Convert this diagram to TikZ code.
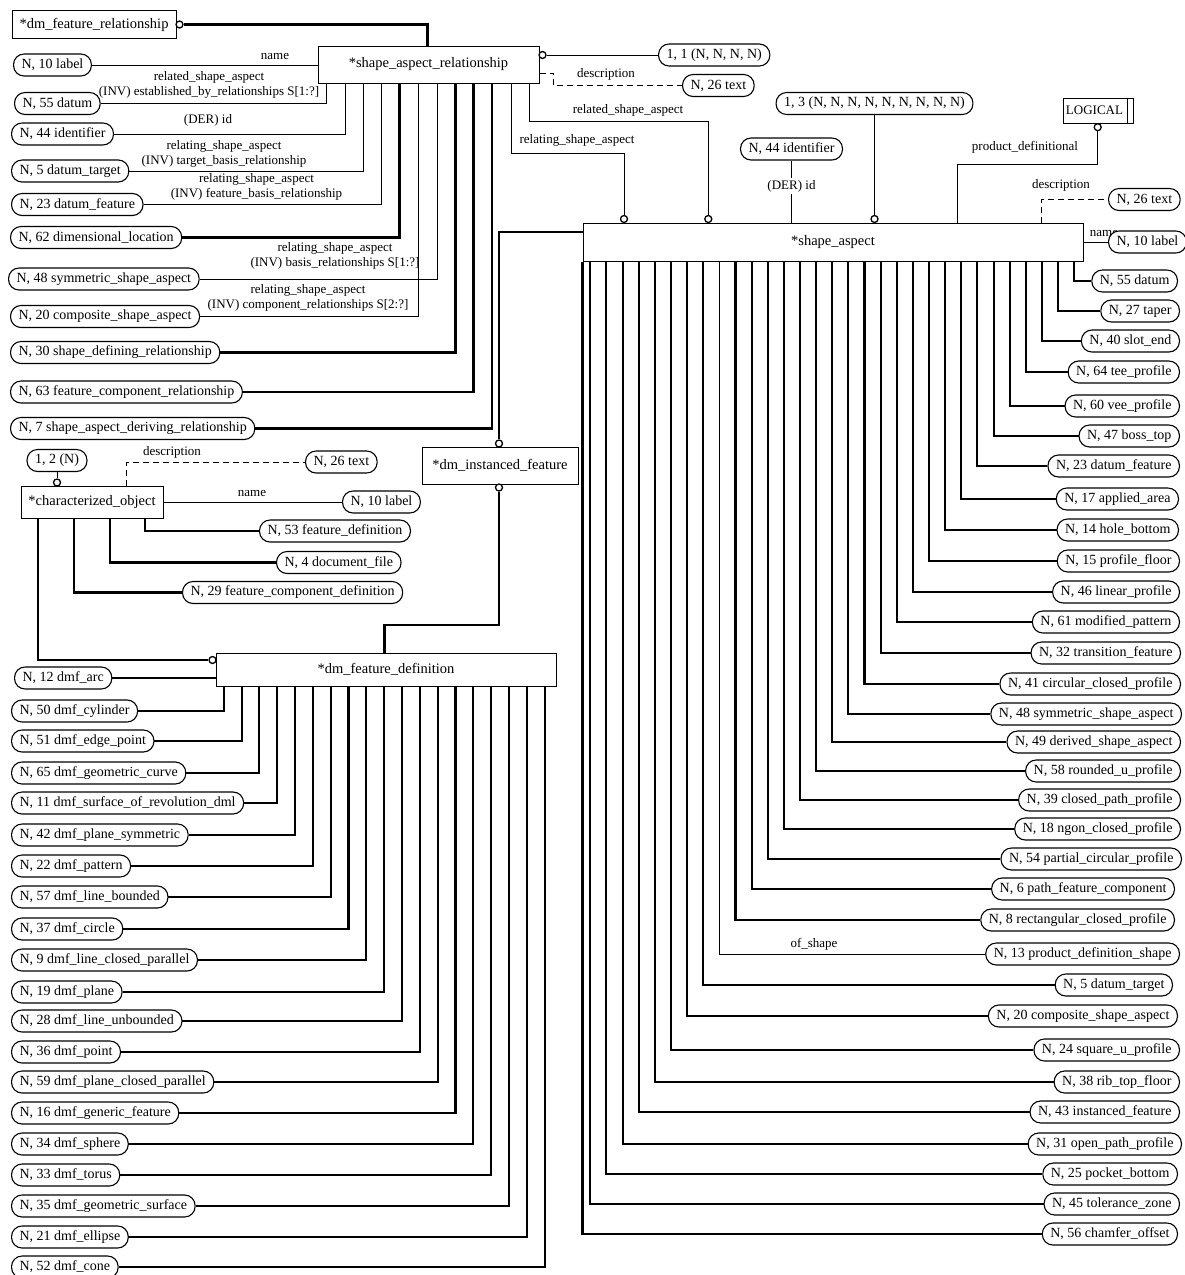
\documentclass[tikz,border=0pt]{standalone}
\usepackage{fontspec}
\setmainfont{Liberation Serif}
\newcommand\pillfont{\fontsize{14}{16}\selectfont}
\newcommand\entfont{\fontsize{14.5}{17}\selectfont}
\newcommand\labfont{\fontsize{13}{15}\selectfont}
\tikzset{
  pill/.style={draw, fill=white, rounded corners=10.5pt, minimum height=22pt,
    inner xsep=8pt, inner ysep=0pt, line width=1.1pt, font=\pillfont},
  ent/.style={draw, fill=white, line width=1pt, inner sep=0pt, font=\entfont},
  lab/.style={font=\labfont, inner sep=0pt, align=center},
  oc/.style={circle, draw, fill=white, inner sep=0pt, minimum size=7pt, line width=1.3pt},
  attr/.style={line width=0.9pt},
  sub/.style={line width=2.1pt},
  opt/.style={line width=0.9pt, dash pattern=on 6pt off 4pt},
}
\begin{document}
\begin{tikzpicture}[x=1pt,y=-1pt]
\fill[white] (0,0) rectangle (1184,1275);
\useasboundingbox (0,0) rectangle (1184,1275);

% ---------- entity boxes ----------
\node[ent, minimum width=164pt, minimum height=28pt] (dfr) at (94,24.5) {*dm\_feature\_relationship};
\node[ent, minimum width=221pt, minimum height=37pt] (sar) at (428.5,64.5) {*shape\_aspect\_relationship};
\node[ent, minimum width=500pt, minimum height=38pt] (sa) at (833,242) {*shape\_aspect};
\node[ent, minimum width=156pt, minimum height=37pt] (dmi) at (500,465.5) {*dm\_instanced\_feature};
\node[ent, minimum width=142pt, minimum height=32pt] (co) at (92,502) {*characterized\_object};
\node[ent, minimum width=340pt, minimum height=33pt] (dfd) at (386,669.5) {*dm\_feature\_definition};
\node[ent, font=\labfont, minimum width=70pt, minimum height=25pt] (lg) at (1098,110.5) {LOGICAL\hspace*{7pt}};
\draw[line width=1pt] ([xshift=-6.5pt]lg.north east) -- ([xshift=-6.5pt]lg.south east);

% ---------- open circles ----------
\node[oc] (cdfr) at (179.5,24.5) {};
\node[oc] (csar) at (542.5,55) {};
\node[oc] (crel1) at (624,219) {};
\node[oc] (crel2) at (708.3,219) {};
\node[oc] (cthree) at (874.5,219) {};
\node[oc] (clog) at (1097.7,127.2) {};
\node[oc] (cdmitop) at (499,443.5) {};
\node[oc] (cdmibot) at (499,487.5) {};
\node[oc] (cco) at (57,482.5) {};
\node[oc] (cdfd) at (212.5,660) {};

% ---------- shape_aspect_relationship ----------
\draw[sub] (cdfr.east) -| ([xshift=110pt]sar.north west);

\node[pill, anchor=west] (a1) at (13,65) {N, 10 label};
\node[pill, anchor=west] (a2) at (14,103.5) {N, 55 datum};
\node[pill, anchor=west] (a3) at (11,134) {N, 44 identifier};
\node[pill, anchor=west] (a4) at (11,171) {N, 5 datum\_target};
\node[pill, anchor=west] (a5) at (11,204.5) {N, 23 datum\_feature};
\node[pill, anchor=west] (a6) at (10,237.5) {N, 62 dimensional\_location};
\node[pill, anchor=west] (a7) at (8,279) {N, 48 symmetric\_shape\_aspect};
\node[pill, anchor=west] (a8) at (10,316.5) {N, 20 composite\_shape\_aspect};
\node[pill, anchor=west] (a9) at (10,352.5) {N, 30 shape\_defining\_relationship};
\node[pill, anchor=west] (a10) at (10,392) {N, 63 feature\_component\_relationship};
\node[pill, anchor=west] (a11) at (10,428.5) {N, 7 shape\_aspect\_deriving\_relationship};

\draw[attr] (a1.east) -- (a1.east -| sar.west);
\draw[attr] (a2.east) -| ([xshift=9pt]sar.south west);
\draw[attr] (a3.east) -| ([xshift=27.7pt]sar.south west);
\draw[attr] (a4.east) -| ([xshift=46pt]sar.south west);
\draw[attr] (a5.east) -| ([xshift=64.3pt]sar.south west);
\draw[sub] (a6.east) -| ([xshift=82pt]sar.south west);
\draw[attr] (a7.east) -| ([xshift=120.3pt]sar.south west);
\draw[attr] (a8.east) -| ([xshift=101pt]sar.south west);
\draw[sub] (a9.east) -| ([xshift=138pt]sar.south west);
\draw[sub] (a10.east) -| ([xshift=156pt]sar.south west);
\draw[sub] (a11.east) -| ([xshift=174.3pt]sar.south west);

\node[lab] at (275,56) {name};
\node[lab] at (209,84.5) {related\_shape\_aspect\\(INV) established\_by\_relationships S[1:?]};
\node[lab] at (208,120) {(DER) id};
\node[lab] at (224,153.5) {relating\_shape\_aspect\\(INV) target\_basis\_relationship};
\node[lab] at (256.5,186.5) {relating\_shape\_aspect\\(INV) feature\_basis\_relationship};
\node[lab] at (335,256) {relating\_shape\_aspect\\(INV) basis\_relationships S[1:?]};
\node[lab] at (308,298) {relating\_shape\_aspect\\(INV) component\_relationships S[2:?]};

\node[pill, anchor=west] (p11) at (658,55) {1, 1 (N, N, N, N)};
\draw[attr] (csar.east) -- (p11.west);
\node[pill, anchor=west] (p26a) at (682,85.5) {N, 26 text};
\draw[opt] ([yshift=-8.5pt]sar.east) -- ++(14,0) |- (p26a.west);
\node[lab] at (606,74) {description};

\draw[attr] ([xshift=193.7pt]sar.south west) -- ++(0,69.7) -| (crel1.north);
\draw[attr] ([xshift=212pt]sar.south west) -- ++(0,38) -| (crel2.north);
\node[lab] at (577,140) {relating\_shape\_aspect};
\node[lab] at (628,110.5) {related\_shape\_aspect};

% ---------- shape_aspect attributes ----------
\node[pill] (p44) at (791.5,149) {N, 44 identifier};
\draw[attr] (p44.south) -- (p44.south |- sa.north);
\node[lab, fill=white, inner ysep=2pt] at (791.5,186) {(DER) id};

\node[pill] (p13) at (874.5,103.5) {1, 3 (N, N, N, N, N, N, N, N, N)};
\draw[attr] (p13.south) -- (cthree.north);

\draw[attr] (clog.south) -- ++(0,32.6) -| ([xshift=374.7pt]sa.north west);
\node[lab] at (1025,147) {product\_definitional};

\node[pill, anchor=west] (p26b) at (1108,199.5) {N, 26 text};
\draw[opt] ([xshift=458.7pt]sa.north west) |- (p26b.west);
\node[lab] at (1061,185) {description};

\node[lab] at (1104,233) {name};
\node[pill, anchor=west] (p10b) at (1108,242) {N, 10 label};
\draw[attr] (sa.east) -- (p10b.west);

% ---------- shape_aspect subtypes ----------
\foreach \nm/\y/\xr [count=\i] in {
  {N, 55 datum}/281/1178,
  {N, 27 taper}/311/1180,
  {N, 40 slot\_end}/341/1180,
  {N, 64 tee\_profile}/372/1180,
  {N, 60 vee\_profile}/406/1180,
  {N, 47 boss\_top}/436/1180,
  {N, 23 datum\_feature}/466/1180,
  {N, 17 applied\_area}/499/1179,
  {N, 14 hole\_bottom}/530/1179,
  {N, 15 profile\_floor}/561/1180,
  {N, 46 linear\_profile}/592/1180,
  {N, 61 modified\_pattern}/622/1180,
  {N, 32 transition\_feature}/653/1181,
  {N, 41 circular\_closed\_profile}/684/1181,
  {N, 48 symmetric\_shape\_aspect}/714/1182,
  {N, 49 derived\_shape\_aspect}/742/1181,
  {N, 58 rounded\_u\_profile}/771/1181,
  {N, 39 closed\_path\_profile}/800/1181,
  {N, 18 ngon\_closed\_profile}/829/1181,
  {N, 54 partial\_circular\_profile}/859/1182,
  {N, 6 path\_feature\_component}/889/1175,
  {N, 8 rectangular\_closed\_profile}/920/1175,
  {N, 13 product\_definition\_shape}/954/1180,
  {N, 5 datum\_target}/985/1173,
  {N, 20 composite\_shape\_aspect}/1016/1178,
  {N, 24 square\_u\_profile}/1050/1180,
  {N, 38 rib\_top\_floor}/1082/1180,
  {N, 43 instanced\_feature}/1112/1180,
  {N, 31 open\_path\_profile}/1144/1182,
  {N, 25 pocket\_bottom}/1174/1178,
  {N, 45 tolerance\_zone}/1204/1180,
  {N, 56 chamfer\_offset}/1234/1178}
{
  \pgfmathsetmacro\lw{\i==23 ? 0.9 : 2.1}
  \pgfmathsetmacro\tx{\i==32 ? 0 : 491.7-(\i-1)*16.13}
  \node[pill, anchor=east] (r\i) at (\xr,\y) {\nm};
  \draw[line width=\lw pt] ([xshift=\tx pt]sa.south west) |- (r\i.west);
}
\node[lab] at (814,944) {of\_shape};

% ---------- dm_instanced_feature ----------
\draw[sub] ([yshift=10pt]sa.west) -| (cdmitop.north);
\draw[sub] (cdmibot.south) -- ++(0,133) -| ([xshift=169pt]dfd.north west);

% ---------- characterized_object ----------
\node[pill] (p12) at (57,460.5) {1, 2 (N)};
\draw[attr] (p12.south) -- (cco.north);
\node[pill, anchor=west] (p26c) at (305,462) {N, 26 text};
\draw[opt] ([xshift=106pt]co.north west) |- (p26c.west);
\node[lab] at (172,452) {description};
\node[pill, anchor=west] (p10c) at (342,502) {N, 10 label};
\draw[attr] (co.east) -- (p10c.west);
\node[lab] at (252,493) {name};
\node[pill, anchor=west] (p53) at (259,531) {N, 53 feature\_definition};
\node[pill, anchor=west] (p4) at (276,562.5) {N, 4 document\_file};
\node[pill, anchor=west] (p29) at (182,592.5) {N, 29 feature\_component\_definition};
\draw[sub] ([xshift=124.5pt]co.south west) |- (p53.west);
\draw[sub] ([xshift=89.5pt]co.south west) |- (p4.west);
\draw[sub] ([xshift=53.5pt]co.south west) |- (p29.west);
\draw[sub] ([xshift=17.8pt]co.south west) |- (cdfd.west);

% ---------- dm_feature_definition subtypes ----------
\node[pill, anchor=west] (parc) at (14,678) {N, 12 dmf\_arc};
\draw[sub] (parc.east) -- (parc.east -| dfd.west);
\foreach \nm/\y [count=\j] in {
  {N, 50 dmf\_cylinder}/711,
  {N, 51 dmf\_edge\_point}/741,
  {N, 65 dmf\_geometric\_curve}/773,
  {N, 11 dmf\_surface\_of\_revolution\_dml}/803,
  {N, 42 dmf\_plane\_symmetric}/835,
  {N, 22 dmf\_pattern}/866,
  {N, 57 dmf\_line\_bounded}/897,
  {N, 37 dmf\_circle}/929,
  {N, 9 dmf\_line\_closed\_parallel}/960,
  {N, 19 dmf\_plane}/992,
  {N, 28 dmf\_line\_unbounded}/1021,
  {N, 36 dmf\_point}/1052,
  {N, 59 dmf\_plane\_closed\_parallel}/1082,
  {N, 16 dmf\_generic\_feature}/1113,
  {N, 34 dmf\_sphere}/1144,
  {N, 33 dmf\_torus}/1175,
  {N, 35 dmf\_geometric\_surface}/1206,
  {N, 21 dmf\_ellipse}/1237,
  {N, 52 dmf\_cone}/1267}
{
  \pgfmathsetmacro\tx{8.3+(\j-1)*17.82}
  \node[pill, anchor=west] (d\j) at (11,\y) {\nm};
  \draw[sub] ([xshift=\tx pt]dfd.south west) |- (d\j.east);
}
\end{tikzpicture}
\end{document}
